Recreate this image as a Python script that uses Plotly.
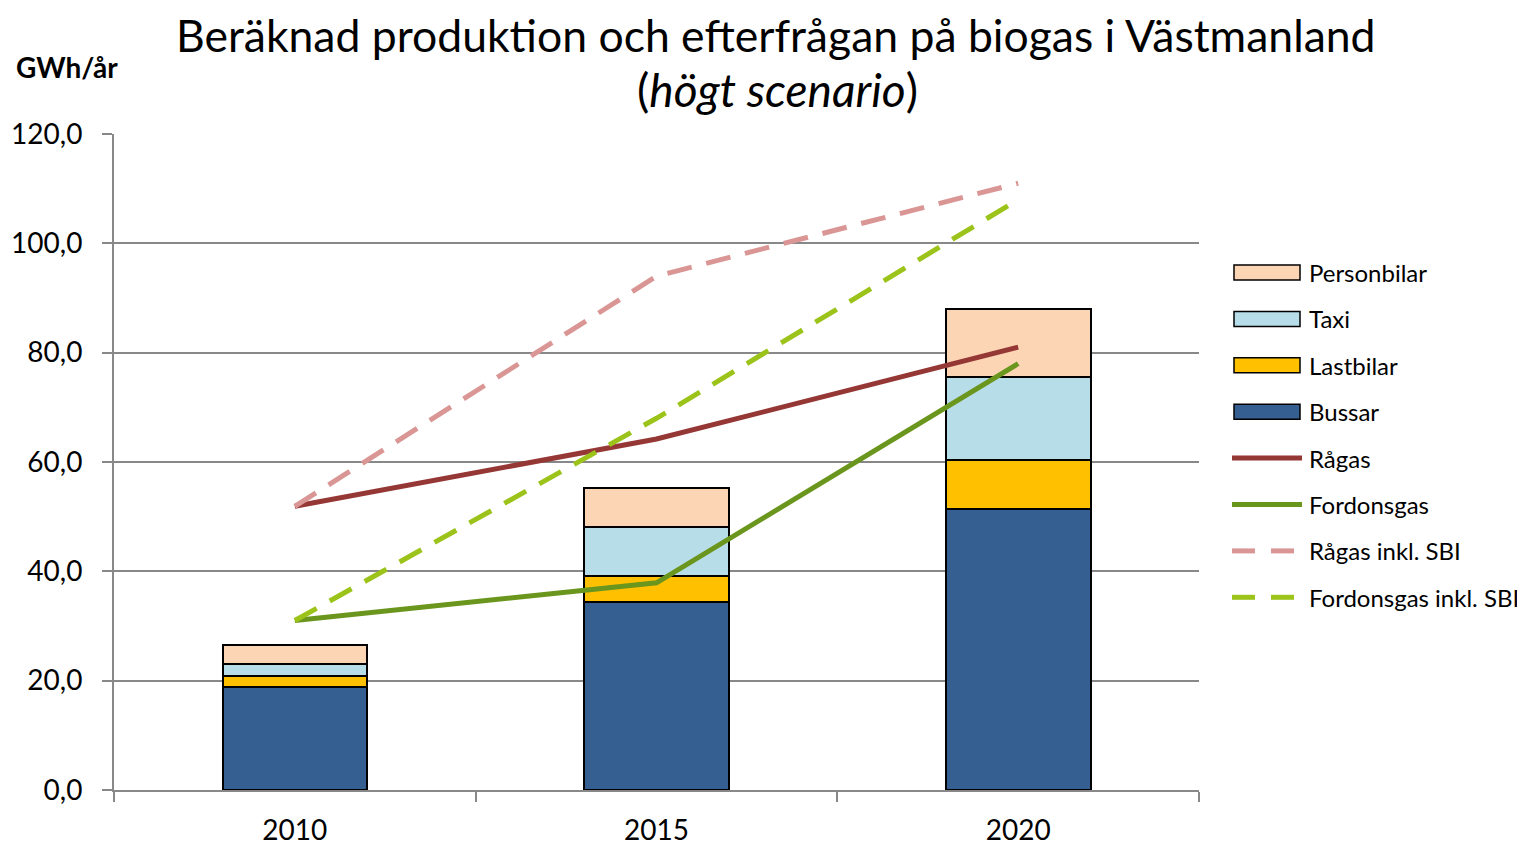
import plotly.graph_objects as go

years = ["2010", "2015", "2020"]
bussar = [18.8, 34.3, 51.4]
lastbilar = [2.1, 4.8, 8.9]
taxi = [2.2, 9.0, 15.2]
personbilar = [3.4, 7.2, 12.4]
ragas = [51.9, 64.2, 81.0]
fordonsgas = [31.0, 37.9, 78.0]
ragas_sbi = [51.9, 94.0, 111.0]
fordonsgas_sbi = [31.0, 68.0, 108.0]
y_ticks = [0, 20, 40, 60, 80, 100, 120]

FONT = "Lato"
OFF = 8  # page body margin offset
W, H = 1525 - OFF, 843
L, R, T, B = 114 - OFF, 1199 - OFF, 134 - OFF, 790 - OFF

def px(x):
    return (x - OFF - L) / (R - L)

def py(y):
    return (B - (y - OFF)) / (B - T)

fig = go.Figure()

bars = [
    ("Bussar", bussar, "#365F91"),
    ("Lastbilar", lastbilar, "#FFC000"),
    ("Taxi", taxi, "#B7DEE8"),
    ("Personbilar", personbilar, "#FCD5B5"),
]
for name, vals, col in bars:
    fig.add_trace(go.Bar(x=years, y=vals, name=name, width=0.4,
                         marker=dict(color=col, line=dict(color="black", width=2)),
                         showlegend=False))

lines = [
    ("Rågas", ragas, "#953735", "solid"),
    ("Fordonsgas", fordonsgas, "#6B961E", "solid"),
    ("Rågas inkl. SBI", ragas_sbi, "#D99694", "25px,15px"),
    ("Fordonsgas inkl. SBI", fordonsgas_sbi, "#9BC31A", "25px,15px"),
]
for name, vals, col, dash in lines:
    fig.add_trace(go.Scatter(x=years, y=vals, name=name, mode="lines",
                             line=dict(color=col, width=5, dash=dash),
                             showlegend=False))

# Manual legend
items = [
    ("Personbilar", "rect", "#FCD5B5"),
    ("Taxi", "rect", "#B7DEE8"),
    ("Lastbilar", "rect", "#FFC000"),
    ("Bussar", "rect", "#365F91"),
    ("Rågas", "line", "#953735"),
    ("Fordonsgas", "line", "#6B961E"),
    ("Rågas inkl. SBI", "dash", "#D99694"),
    ("Fordonsgas inkl. SBI", "dash", "#9BC31A"),
]
shapes = []
annotations = []
y0 = 272.5
step = 46.4
for i, (name, kind, col) in enumerate(items):
    yc = y0 + i * step
    if kind == "rect":
        shapes.append(dict(type="rect", xref="paper", yref="paper",
                           x0=px(1234), x1=px(1300), y0=py(yc - 7.5), y1=py(yc + 7.5),
                           fillcolor=col, line=dict(color="black", width=1.5)))
    elif kind == "line":
        shapes.append(dict(type="line", xref="paper", yref="paper",
                           x0=px(1232), x1=px(1302), y0=py(yc), y1=py(yc),
                           line=dict(color=col, width=5)))
    else:
        for a, b in [(1232, 1255), (1271, 1294)]:
            shapes.append(dict(type="line", xref="paper", yref="paper",
                               x0=px(a), x1=px(b), y0=py(yc), y1=py(yc),
                               line=dict(color=col, width=5)))
    annotations.append(dict(text=name, xref="paper", yref="paper",
                            x=px(1307), y=py(yc), xanchor="left", yanchor="middle",
                            showarrow=False, font=dict(family=FONT, size=24, color="black")))

annotations.append(dict(text="Beräknad produktion och efterfrågan på biogas i Västmanland",
                        xref="paper", yref="paper", x=px(776), y=py(34.5),
                        xanchor="center", yanchor="middle", showarrow=False,
                        font=dict(family=FONT, size=44.5, color="black")))
annotations.append(dict(text="(<i>högt scenario</i>)",
                        xref="paper", yref="paper", x=px(777), y=py(89),
                        xanchor="center", yanchor="middle", showarrow=False,
                        font=dict(family=FONT, size=46, color="black")))
annotations.append(dict(text="<b>GWh/år</b>", xref="paper", yref="paper",
                        x=px(14), y=py(67), xanchor="left", yanchor="middle",
                        showarrow=False, font=dict(family=FONT, size=28, color="black")))

fig.update_layout(
    width=W, height=H,
    margin=dict(l=L, r=W - R, t=T, b=H - B, autoexpand=False),
    barmode="stack",
    plot_bgcolor="white", paper_bgcolor="white",
    separators=", ",
    font=dict(family=FONT, size=28, color="black"),
    shapes=shapes, annotations=annotations,
    showlegend=False,
)
fig.update_xaxes(type="category", tickson="boundaries", ticks="outside", ticklen=10,
                 tickwidth=2, tickcolor="#888888", showline=True, linecolor="#888888",
                 linewidth=2, showgrid=False, tickfont=dict(family=FONT, size=28),
                 ticklabelstandoff=14)
fig.update_yaxes(range=[0, 120], tickvals=y_ticks, tickformat=".1f", ticks="outside",
                 ticklen=10, tickwidth=2, tickcolor="#888888", showline=True,
                 linecolor="#888888", linewidth=2, showgrid=True, gridcolor="#888888",
                 gridwidth=2, zeroline=False, tickfont=dict(family=FONT, size=28),
                 ticklabelstandoff=14)

fig.write_html("out.html")
